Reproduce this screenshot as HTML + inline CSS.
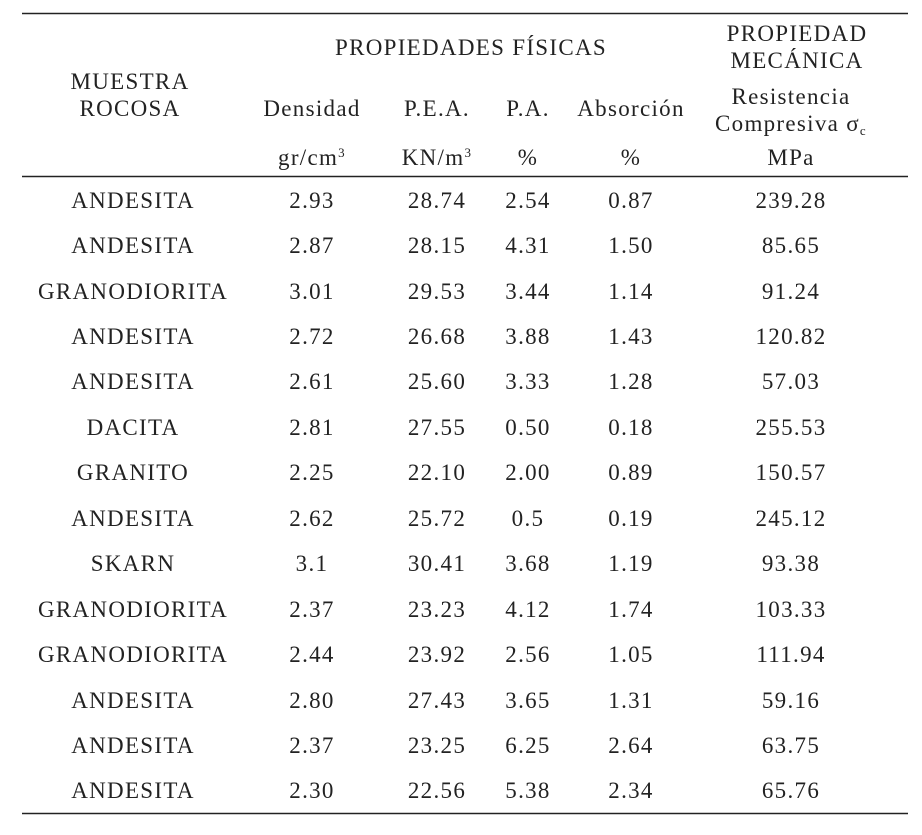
<!DOCTYPE html>
<html><head><meta charset="utf-8"><style>
html,body{margin:0;padding:0;background:#fff}
svg text{font-family:"Liberation Serif",serif;font-size:23px;letter-spacing:1.3px;fill:#222;text-anchor:middle}
</style></head><body>
<svg width="922" height="830" xmlns="http://www.w3.org/2000/svg">
<line x1="22" y1="13.5" x2="908" y2="13.5" stroke="#222" stroke-width="1.5"/>
<line x1="22" y1="176.5" x2="908" y2="176.5" stroke="#222" stroke-width="1.5"/>
<line x1="22" y1="813.5" x2="908" y2="813.5" stroke="#222" stroke-width="1.5"/>
<text x="471" y="55">PROPIEDADES FÍSICAS</text>
<text x="797" y="41">PROPIEDAD</text>
<text x="797" y="68">MECÁNICA</text>
<text x="130" y="89">MUESTRA</text>
<text x="130" y="116">ROCOSA</text>
<text x="312" y="116">Densidad</text>
<text x="437" y="116">P.E.A.</text>
<text x="528" y="116">P.A.</text>
<text x="631" y="116">Absorción</text>
<text x="791" y="104">Resistencia</text>
<text x="791" y="131">Compresiva σ<tspan font-size="13" dy="4">c</tspan></text>
<text x="312" y="165">gr/cm<tspan font-size="13" dy="-8">3</tspan></text>
<text x="437" y="165">KN/m<tspan font-size="13" dy="-8">3</tspan></text>
<text x="528" y="165">%</text>
<text x="631" y="165">%</text>
<text x="791" y="165">MPa</text>
<g>
<text x="133" y="208">ANDESITA</text><text x="312" y="208">2.93</text><text x="437" y="208">28.74</text><text x="528" y="208">2.54</text><text x="631" y="208">0.87</text><text x="791" y="208">239.28</text>
<text x="133" y="253">ANDESITA</text><text x="312" y="253">2.87</text><text x="437" y="253">28.15</text><text x="528" y="253">4.31</text><text x="631" y="253">1.50</text><text x="791" y="253">85.65</text>
<text x="133" y="299">GRANODIORITA</text><text x="312" y="299">3.01</text><text x="437" y="299">29.53</text><text x="528" y="299">3.44</text><text x="631" y="299">1.14</text><text x="791" y="299">91.24</text>
<text x="133" y="344">ANDESITA</text><text x="312" y="344">2.72</text><text x="437" y="344">26.68</text><text x="528" y="344">3.88</text><text x="631" y="344">1.43</text><text x="791" y="344">120.82</text>
<text x="133" y="389">ANDESITA</text><text x="312" y="389">2.61</text><text x="437" y="389">25.60</text><text x="528" y="389">3.33</text><text x="631" y="389">1.28</text><text x="791" y="389">57.03</text>
<text x="133" y="435">DACITA</text><text x="312" y="435">2.81</text><text x="437" y="435">27.55</text><text x="528" y="435">0.50</text><text x="631" y="435">0.18</text><text x="791" y="435">255.53</text>
<text x="133" y="480">GRANITO</text><text x="312" y="480">2.25</text><text x="437" y="480">22.10</text><text x="528" y="480">2.00</text><text x="631" y="480">0.89</text><text x="791" y="480">150.57</text>
<text x="133" y="526">ANDESITA</text><text x="312" y="526">2.62</text><text x="437" y="526">25.72</text><text x="528" y="526">0.5</text><text x="631" y="526">0.19</text><text x="791" y="526">245.12</text>
<text x="133" y="571">SKARN</text><text x="312" y="571">3.1</text><text x="437" y="571">30.41</text><text x="528" y="571">3.68</text><text x="631" y="571">1.19</text><text x="791" y="571">93.38</text>
<text x="133" y="617">GRANODIORITA</text><text x="312" y="617">2.37</text><text x="437" y="617">23.23</text><text x="528" y="617">4.12</text><text x="631" y="617">1.74</text><text x="791" y="617">103.33</text>
<text x="133" y="662">GRANODIORITA</text><text x="312" y="662">2.44</text><text x="437" y="662">23.92</text><text x="528" y="662">2.56</text><text x="631" y="662">1.05</text><text x="791" y="662">111.94</text>
<text x="133" y="708">ANDESITA</text><text x="312" y="708">2.80</text><text x="437" y="708">27.43</text><text x="528" y="708">3.65</text><text x="631" y="708">1.31</text><text x="791" y="708">59.16</text>
<text x="133" y="753">ANDESITA</text><text x="312" y="753">2.37</text><text x="437" y="753">23.25</text><text x="528" y="753">6.25</text><text x="631" y="753">2.64</text><text x="791" y="753">63.75</text>
<text x="133" y="798">ANDESITA</text><text x="312" y="798">2.30</text><text x="437" y="798">22.56</text><text x="528" y="798">5.38</text><text x="631" y="798">2.34</text><text x="791" y="798">65.76</text>
</g>
</svg>
</body></html>
